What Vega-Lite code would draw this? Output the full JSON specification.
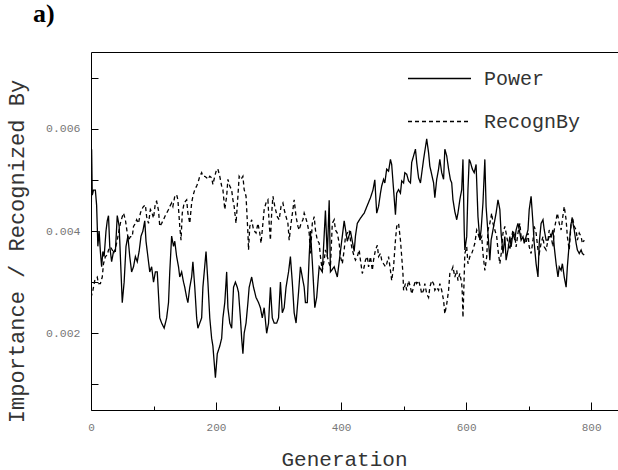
{
  "$schema": "https://vega.github.io/schema/vega-lite/v6.json",
  "width": 527,
  "height": 358,
  "autosize": "none",
  "padding": {"left": 91, "top": 52, "right": 0, "bottom": 60},
  "background": "white",
  "title": {"text": "a)", "anchor": "start", "frame": "group", "font": "Liberation Serif", "fontSize": 26, "fontWeight": "bold", "color": "black", "baseline": "alphabetic", "dx": -58, "offset": -2},
  "config": {"view": {"stroke": null}},
  "datasets": {
    "power": [
      {"g":0,"v":0.0028,"s":"Power"},{"g":1,"v":0.0056,"s":"Power"},{"g":2,"v":0.0047,"s":"Power"},{"g":4,"v":0.0048,"s":"Power"},{"g":7,"v":0.0048,"s":"Power"},{"g":9,"v":0.0045,"s":"Power"},{"g":11,"v":0.0037,"s":"Power"},{"g":13,"v":0.004,"s":"Power"},{"g":15,"v":0.0036,"s":"Power"},{"g":17,"v":0.0033,"s":"Power"},{"g":19,"v":0.0036,"s":"Power"},{"g":21,"v":0.0035,"s":"Power"},{"g":24,"v":0.004,"s":"Power"},{"g":26,"v":0.0042,"s":"Power"},{"g":28,"v":0.0043,"s":"Power"},{"g":30,"v":0.0037,"s":"Power"},{"g":33,"v":0.0034,"s":"Power"},{"g":36,"v":0.0036,"s":"Power"},{"g":39,"v":0.0036,"s":"Power"},{"g":42,"v":0.0043,"s":"Power"},{"g":45,"v":0.0041,"s":"Power"},{"g":48,"v":0.0032,"s":"Power"},{"g":50,"v":0.0026,"s":"Power"},{"g":53,"v":0.003,"s":"Power"},{"g":56,"v":0.0037,"s":"Power"},{"g":59,"v":0.0039,"s":"Power"},{"g":62,"v":0.0035,"s":"Power"},{"g":65,"v":0.0032,"s":"Power"},{"g":68,"v":0.0033,"s":"Power"},{"g":71,"v":0.0035,"s":"Power"},{"g":74,"v":0.0034,"s":"Power"},{"g":77,"v":0.0036,"s":"Power"},{"g":80,"v":0.0039,"s":"Power"},{"g":83,"v":0.004,"s":"Power"},{"g":86,"v":0.0042,"s":"Power"},{"g":88,"v":0.0038,"s":"Power"},{"g":91,"v":0.0035,"s":"Power"},{"g":94,"v":0.0032,"s":"Power"},{"g":97,"v":0.0033,"s":"Power"},{"g":100,"v":0.003,"s":"Power"},{"g":103,"v":0.0032,"s":"Power"},{"g":106,"v":0.0032,"s":"Power"},{"g":110,"v":0.0023,"s":"Power"},{"g":113,"v":0.0022,"s":"Power"},{"g":117,"v":0.0021,"s":"Power"},{"g":121,"v":0.0023,"s":"Power"},{"g":124,"v":0.0026,"s":"Power"},{"g":126,"v":0.0032,"s":"Power"},{"g":129,"v":0.0039,"s":"Power"},{"g":132,"v":0.0037,"s":"Power"},{"g":134,"v":0.0038,"s":"Power"},{"g":137,"v":0.0035,"s":"Power"},{"g":140,"v":0.0033,"s":"Power"},{"g":142,"v":0.0031,"s":"Power"},{"g":145,"v":0.0032,"s":"Power"},{"g":148,"v":0.003,"s":"Power"},{"g":150,"v":0.0029,"s":"Power"},{"g":153,"v":0.0027,"s":"Power"},{"g":155,"v":0.0026,"s":"Power"},{"g":158,"v":0.0029,"s":"Power"},{"g":161,"v":0.0031,"s":"Power"},{"g":163,"v":0.0034,"s":"Power"},{"g":166,"v":0.0029,"s":"Power"},{"g":169,"v":0.0023,"s":"Power"},{"g":171,"v":0.0021,"s":"Power"},{"g":174,"v":0.0022,"s":"Power"},{"g":177,"v":0.0023,"s":"Power"},{"g":179,"v":0.0029,"s":"Power"},{"g":184,"v":0.0036,"s":"Power"},{"g":187,"v":0.003,"s":"Power"},{"g":190,"v":0.0023,"s":"Power"},{"g":193,"v":0.0019,"s":"Power"},{"g":195,"v":0.00175,"s":"Power"},{"g":199,"v":0.00113,"s":"Power"},{"g":202,"v":0.0016,"s":"Power"},{"g":206,"v":0.00175,"s":"Power"},{"g":209,"v":0.0019,"s":"Power"},{"g":211,"v":0.0023,"s":"Power"},{"g":214,"v":0.0026,"s":"Power"},{"g":217,"v":0.0032,"s":"Power"},{"g":219,"v":0.0025,"s":"Power"},{"g":222,"v":0.0022,"s":"Power"},{"g":225,"v":0.0021,"s":"Power"},{"g":228,"v":0.0029,"s":"Power"},{"g":231,"v":0.003,"s":"Power"},{"g":234,"v":0.0029,"s":"Power"},{"g":236,"v":0.0028,"s":"Power"},{"g":239,"v":0.0023,"s":"Power"},{"g":241,"v":0.0019,"s":"Power"},{"g":243,"v":0.0016,"s":"Power"},{"g":245,"v":0.002,"s":"Power"},{"g":248,"v":0.0022,"s":"Power"},{"g":251,"v":0.0026,"s":"Power"},{"g":253,"v":0.0029,"s":"Power"},{"g":257,"v":0.0031,"s":"Power"},{"g":260,"v":0.0029,"s":"Power"},{"g":264,"v":0.0027,"s":"Power"},{"g":268,"v":0.0026,"s":"Power"},{"g":271,"v":0.0025,"s":"Power"},{"g":274,"v":0.0023,"s":"Power"},{"g":277,"v":0.0025,"s":"Power"},{"g":281,"v":0.002,"s":"Power"},{"g":284,"v":0.0022,"s":"Power"},{"g":287,"v":0.0029,"s":"Power"},{"g":290,"v":0.0023,"s":"Power"},{"g":293,"v":0.0022,"s":"Power"},{"g":297,"v":0.0022,"s":"Power"},{"g":300,"v":0.0023,"s":"Power"},{"g":303,"v":0.003,"s":"Power"},{"g":306,"v":0.0024,"s":"Power"},{"g":309,"v":0.0025,"s":"Power"},{"g":312,"v":0.0029,"s":"Power"},{"g":316,"v":0.0032,"s":"Power"},{"g":319,"v":0.0035,"s":"Power"},{"g":322,"v":0.003,"s":"Power"},{"g":325,"v":0.0024,"s":"Power"},{"g":328,"v":0.0022,"s":"Power"},{"g":332,"v":0.0028,"s":"Power"},{"g":335,"v":0.0033,"s":"Power"},{"g":338,"v":0.0031,"s":"Power"},{"g":341,"v":0.0029,"s":"Power"},{"g":343,"v":0.0026,"s":"Power"},{"g":346,"v":0.0026,"s":"Power"},{"g":349,"v":0.0035,"s":"Power"},{"g":351,"v":0.004,"s":"Power"},{"g":354,"v":0.0034,"s":"Power"},{"g":358,"v":0.0025,"s":"Power"},{"g":361,"v":0.0027,"s":"Power"},{"g":365,"v":0.0033,"s":"Power"},{"g":370,"v":0.0032,"s":"Power"},{"g":375,"v":0.0044,"s":"Power"},{"g":378,"v":0.0035,"s":"Power"},{"g":381,"v":0.0046,"s":"Power"},{"g":383,"v":0.0032,"s":"Power"},{"g":389,"v":0.0033,"s":"Power"},{"g":394,"v":0.0031,"s":"Power"},{"g":399,"v":0.0036,"s":"Power"},{"g":405,"v":0.0042,"s":"Power"},{"g":410,"v":0.0038,"s":"Power"},{"g":415,"v":0.004,"s":"Power"},{"g":421,"v":0.0036,"s":"Power"},{"g":423,"v":0.0039,"s":"Power"},{"g":426,"v":0.00415,"s":"Power"},{"g":431,"v":0.00425,"s":"Power"},{"g":437,"v":0.00435,"s":"Power"},{"g":442,"v":0.0045,"s":"Power"},{"g":447,"v":0.00465,"s":"Power"},{"g":451,"v":0.0048,"s":"Power"},{"g":454,"v":0.005,"s":"Power"},{"g":457,"v":0.00435,"s":"Power"},{"g":460,"v":0.00448,"s":"Power"},{"g":463,"v":0.00474,"s":"Power"},{"g":465,"v":0.00488,"s":"Power"},{"g":468,"v":0.00501,"s":"Power"},{"g":470,"v":0.00494,"s":"Power"},{"g":473,"v":0.00521,"s":"Power"},{"g":476,"v":0.00517,"s":"Power"},{"g":479,"v":0.0054,"s":"Power"},{"g":481,"v":0.0053,"s":"Power"},{"g":484,"v":0.00481,"s":"Power"},{"g":487,"v":0.00432,"s":"Power"},{"g":489,"v":0.00474,"s":"Power"},{"g":492,"v":0.00481,"s":"Power"},{"g":495,"v":0.00474,"s":"Power"},{"g":497,"v":0.00498,"s":"Power"},{"g":500,"v":0.00494,"s":"Power"},{"g":502,"v":0.00514,"s":"Power"},{"g":505,"v":0.00511,"s":"Power"},{"g":508,"v":0.00498,"s":"Power"},{"g":511,"v":0.00494,"s":"Power"},{"g":513,"v":0.00534,"s":"Power"},{"g":516,"v":0.00547,"s":"Power"},{"g":519,"v":0.0056,"s":"Power"},{"g":521,"v":0.00534,"s":"Power"},{"g":524,"v":0.00504,"s":"Power"},{"g":527,"v":0.00494,"s":"Power"},{"g":532,"v":0.0054,"s":"Power"},{"g":537,"v":0.0058,"s":"Power"},{"g":540,"v":0.00553,"s":"Power"},{"g":542,"v":0.00527,"s":"Power"},{"g":548,"v":0.00494,"s":"Power"},{"g":550,"v":0.00465,"s":"Power"},{"g":553,"v":0.00501,"s":"Power"},{"g":556,"v":0.00521,"s":"Power"},{"g":558,"v":0.0054,"s":"Power"},{"g":561,"v":0.00514,"s":"Power"},{"g":564,"v":0.00501,"s":"Power"},{"g":566,"v":0.0056,"s":"Power"},{"g":569,"v":0.00547,"s":"Power"},{"g":572,"v":0.00521,"s":"Power"},{"g":575,"v":0.005,"s":"Power"},{"g":577,"v":0.00494,"s":"Power"},{"g":579,"v":0.00461,"s":"Power"},{"g":582,"v":0.00438,"s":"Power"},{"g":585,"v":0.00422,"s":"Power"},{"g":587,"v":0.00435,"s":"Power"},{"g":590,"v":0.00461,"s":"Power"},{"g":593,"v":0.00481,"s":"Power"},{"g":595,"v":0.0054,"s":"Power"},{"g":597,"v":0.00402,"s":"Power"},{"g":598,"v":0.00363,"s":"Power"},{"g":601,"v":0.00389,"s":"Power"},{"g":603,"v":0.00481,"s":"Power"},{"g":605,"v":0.0054,"s":"Power"},{"g":607,"v":0.00534,"s":"Power"},{"g":610,"v":0.00521,"s":"Power"},{"g":613,"v":0.00514,"s":"Power"},{"g":616,"v":0.0053,"s":"Power"},{"g":619,"v":0.00428,"s":"Power"},{"g":622,"v":0.00382,"s":"Power"},{"g":624,"v":0.00402,"s":"Power"},{"g":627,"v":0.00455,"s":"Power"},{"g":630,"v":0.0054,"s":"Power"},{"g":632,"v":0.00448,"s":"Power"},{"g":635,"v":0.00396,"s":"Power"},{"g":638,"v":0.00343,"s":"Power"},{"g":640,"v":0.00382,"s":"Power"},{"g":643,"v":0.00402,"s":"Power"},{"g":646,"v":0.00422,"s":"Power"},{"g":648,"v":0.00435,"s":"Power"},{"g":651,"v":0.00461,"s":"Power"},{"g":654,"v":0.00442,"s":"Power"},{"g":656,"v":0.00396,"s":"Power"},{"g":659,"v":0.00356,"s":"Power"},{"g":662,"v":0.00389,"s":"Power"},{"g":664,"v":0.00343,"s":"Power"},{"g":667,"v":0.00363,"s":"Power"},{"g":670,"v":0.00389,"s":"Power"},{"g":672,"v":0.00369,"s":"Power"},{"g":675,"v":0.00396,"s":"Power"},{"g":678,"v":0.00382,"s":"Power"},{"g":680,"v":0.00402,"s":"Power"},{"g":683,"v":0.00415,"s":"Power"},{"g":686,"v":0.00396,"s":"Power"},{"g":688,"v":0.00382,"s":"Power"},{"g":691,"v":0.00389,"s":"Power"},{"g":693,"v":0.00376,"s":"Power"},{"g":696,"v":0.00389,"s":"Power"},{"g":699,"v":0.00402,"s":"Power"},{"g":701,"v":0.00442,"s":"Power"},{"g":704,"v":0.00468,"s":"Power"},{"g":707,"v":0.00415,"s":"Power"},{"g":709,"v":0.00376,"s":"Power"},{"g":712,"v":0.00336,"s":"Power"},{"g":715,"v":0.0031,"s":"Power"},{"g":717,"v":0.00376,"s":"Power"},{"g":720,"v":0.00415,"s":"Power"},{"g":723,"v":0.00422,"s":"Power"},{"g":725,"v":0.00402,"s":"Power"},{"g":728,"v":0.00382,"s":"Power"},{"g":731,"v":0.00382,"s":"Power"},{"g":733,"v":0.00389,"s":"Power"},{"g":736,"v":0.00389,"s":"Power"},{"g":739,"v":0.00402,"s":"Power"},{"g":741,"v":0.00369,"s":"Power"},{"g":744,"v":0.00336,"s":"Power"},{"g":747,"v":0.0031,"s":"Power"},{"g":749,"v":0.0033,"s":"Power"},{"g":752,"v":0.00323,"s":"Power"},{"g":754,"v":0.00336,"s":"Power"},{"g":757,"v":0.0031,"s":"Power"},{"g":760,"v":0.0029,"s":"Power"},{"g":762,"v":0.0033,"s":"Power"},{"g":765,"v":0.00376,"s":"Power"},{"g":768,"v":0.00415,"s":"Power"},{"g":770,"v":0.00422,"s":"Power"},{"g":773,"v":0.00402,"s":"Power"},{"g":776,"v":0.00376,"s":"Power"},{"g":778,"v":0.00363,"s":"Power"},{"g":781,"v":0.00356,"s":"Power"},{"g":784,"v":0.00363,"s":"Power"},{"g":786,"v":0.00356,"s":"Power"},{"g":789,"v":0.00353,"s":"Power"}
    ],
    "recog": [
      {"g":0,"v":0.0027,"s":"RecognBy"},{"g":3,"v":0.00284,"s":"RecognBy"},{"g":6,"v":0.00303,"s":"RecognBy"},{"g":10,"v":0.0031,"s":"RecognBy"},{"g":12,"v":0.00297,"s":"RecognBy"},{"g":15,"v":0.00297,"s":"RecognBy"},{"g":18,"v":0.0031,"s":"RecognBy"},{"g":20,"v":0.00336,"s":"RecognBy"},{"g":23,"v":0.0035,"s":"RecognBy"},{"g":26,"v":0.00353,"s":"RecognBy"},{"g":28,"v":0.00363,"s":"RecognBy"},{"g":31,"v":0.00369,"s":"RecognBy"},{"g":34,"v":0.00363,"s":"RecognBy"},{"g":36,"v":0.00356,"s":"RecognBy"},{"g":39,"v":0.00366,"s":"RecognBy"},{"g":42,"v":0.00382,"s":"RecognBy"},{"g":44,"v":0.00396,"s":"RecognBy"},{"g":47,"v":0.00415,"s":"RecognBy"},{"g":50,"v":0.00428,"s":"RecognBy"},{"g":52,"v":0.00435,"s":"RecognBy"},{"g":55,"v":0.00422,"s":"RecognBy"},{"g":58,"v":0.00396,"s":"RecognBy"},{"g":60,"v":0.00382,"s":"RecognBy"},{"g":63,"v":0.00389,"s":"RecognBy"},{"g":66,"v":0.00389,"s":"RecognBy"},{"g":68,"v":0.00409,"s":"RecognBy"},{"g":71,"v":0.00415,"s":"RecognBy"},{"g":73,"v":0.00422,"s":"RecognBy"},{"g":76,"v":0.00415,"s":"RecognBy"},{"g":79,"v":0.00435,"s":"RecognBy"},{"g":81,"v":0.00442,"s":"RecognBy"},{"g":84,"v":0.00448,"s":"RecognBy"},{"g":87,"v":0.00451,"s":"RecognBy"},{"g":89,"v":0.00428,"s":"RecognBy"},{"g":92,"v":0.00415,"s":"RecognBy"},{"g":95,"v":0.00442,"s":"RecognBy"},{"g":97,"v":0.00438,"s":"RecognBy"},{"g":100,"v":0.00425,"s":"RecognBy"},{"g":103,"v":0.00455,"s":"RecognBy"},{"g":105,"v":0.00458,"s":"RecognBy"},{"g":108,"v":0.0044,"s":"RecognBy"},{"g":110,"v":0.00409,"s":"RecognBy"},{"g":113,"v":0.00415,"s":"RecognBy"},{"g":116,"v":0.00422,"s":"RecognBy"},{"g":118,"v":0.00428,"s":"RecognBy"},{"g":121,"v":0.00435,"s":"RecognBy"},{"g":124,"v":0.00442,"s":"RecognBy"},{"g":126,"v":0.00448,"s":"RecognBy"},{"g":129,"v":0.00455,"s":"RecognBy"},{"g":131,"v":0.00448,"s":"RecognBy"},{"g":134,"v":0.00468,"s":"RecognBy"},{"g":137,"v":0.00471,"s":"RecognBy"},{"g":139,"v":0.00461,"s":"RecognBy"},{"g":142,"v":0.00409,"s":"RecognBy"},{"g":144,"v":0.00382,"s":"RecognBy"},{"g":146,"v":0.00435,"s":"RecognBy"},{"g":149,"v":0.00455,"s":"RecognBy"},{"g":153,"v":0.00461,"s":"RecognBy"},{"g":155,"v":0.00435,"s":"RecognBy"},{"g":158,"v":0.00415,"s":"RecognBy"},{"g":161,"v":0.00455,"s":"RecognBy"},{"g":163,"v":0.00468,"s":"RecognBy"},{"g":166,"v":0.00481,"s":"RecognBy"},{"g":169,"v":0.00488,"s":"RecognBy"},{"g":171,"v":0.00494,"s":"RecognBy"},{"g":174,"v":0.00507,"s":"RecognBy"},{"g":177,"v":0.00514,"s":"RecognBy"},{"g":179,"v":0.00507,"s":"RecognBy"},{"g":182,"v":0.00507,"s":"RecognBy"},{"g":185,"v":0.00504,"s":"RecognBy"},{"g":187,"v":0.00501,"s":"RecognBy"},{"g":190,"v":0.00507,"s":"RecognBy"},{"g":193,"v":0.00504,"s":"RecognBy"},{"g":195,"v":0.00491,"s":"RecognBy"},{"g":198,"v":0.00507,"s":"RecognBy"},{"g":201,"v":0.00521,"s":"RecognBy"},{"g":203,"v":0.00521,"s":"RecognBy"},{"g":206,"v":0.00507,"s":"RecognBy"},{"g":209,"v":0.00488,"s":"RecognBy"},{"g":211,"v":0.00481,"s":"RecognBy"},{"g":214,"v":0.00442,"s":"RecognBy"},{"g":217,"v":0.00468,"s":"RecognBy"},{"g":219,"v":0.00501,"s":"RecognBy"},{"g":222,"v":0.00488,"s":"RecognBy"},{"g":225,"v":0.0048,"s":"RecognBy"},{"g":227,"v":0.00461,"s":"RecognBy"},{"g":229,"v":0.00448,"s":"RecognBy"},{"g":232,"v":0.00415,"s":"RecognBy"},{"g":235,"v":0.00468,"s":"RecognBy"},{"g":237,"v":0.00507,"s":"RecognBy"},{"g":240,"v":0.00501,"s":"RecognBy"},{"g":243,"v":0.00507,"s":"RecognBy"},{"g":245,"v":0.00481,"s":"RecognBy"},{"g":248,"v":0.00468,"s":"RecognBy"},{"g":251,"v":0.00396,"s":"RecognBy"},{"g":252,"v":0.00363,"s":"RecognBy"},{"g":254,"v":0.00409,"s":"RecognBy"},{"g":257,"v":0.00422,"s":"RecognBy"},{"g":260,"v":0.00402,"s":"RecognBy"},{"g":264,"v":0.00396,"s":"RecognBy"},{"g":267,"v":0.00415,"s":"RecognBy"},{"g":270,"v":0.00396,"s":"RecognBy"},{"g":272,"v":0.00376,"s":"RecognBy"},{"g":275,"v":0.00415,"s":"RecognBy"},{"g":277,"v":0.00442,"s":"RecognBy"},{"g":280,"v":0.00455,"s":"RecognBy"},{"g":283,"v":0.00461,"s":"RecognBy"},{"g":285,"v":0.00415,"s":"RecognBy"},{"g":287,"v":0.00382,"s":"RecognBy"},{"g":289,"v":0.00435,"s":"RecognBy"},{"g":291,"v":0.00468,"s":"RecognBy"},{"g":294,"v":0.00448,"s":"RecognBy"},{"g":298,"v":0.00428,"s":"RecognBy"},{"g":301,"v":0.00422,"s":"RecognBy"},{"g":304,"v":0.00448,"s":"RecognBy"},{"g":307,"v":0.00455,"s":"RecognBy"},{"g":309,"v":0.00442,"s":"RecognBy"},{"g":312,"v":0.00428,"s":"RecognBy"},{"g":315,"v":0.00415,"s":"RecognBy"},{"g":317,"v":0.00382,"s":"RecognBy"},{"g":320,"v":0.00415,"s":"RecognBy"},{"g":323,"v":0.00442,"s":"RecognBy"},{"g":325,"v":0.00461,"s":"RecognBy"},{"g":328,"v":0.00428,"s":"RecognBy"},{"g":331,"v":0.00409,"s":"RecognBy"},{"g":333,"v":0.00402,"s":"RecognBy"},{"g":336,"v":0.00415,"s":"RecognBy"},{"g":339,"v":0.00422,"s":"RecognBy"},{"g":341,"v":0.00435,"s":"RecognBy"},{"g":343,"v":0.00428,"s":"RecognBy"},{"g":346,"v":0.00415,"s":"RecognBy"},{"g":349,"v":0.00396,"s":"RecognBy"},{"g":351,"v":0.00356,"s":"RecognBy"},{"g":354,"v":0.00415,"s":"RecognBy"},{"g":357,"v":0.00428,"s":"RecognBy"},{"g":359,"v":0.00402,"s":"RecognBy"},{"g":362,"v":0.00382,"s":"RecognBy"},{"g":365,"v":0.00376,"s":"RecognBy"},{"g":367,"v":0.0035,"s":"RecognBy"},{"g":370,"v":0.00323,"s":"RecognBy"},{"g":373,"v":0.00343,"s":"RecognBy"},{"g":375,"v":0.00363,"s":"RecognBy"},{"g":378,"v":0.0035,"s":"RecognBy"},{"g":381,"v":0.00336,"s":"RecognBy"},{"g":383,"v":0.0033,"s":"RecognBy"},{"g":386,"v":0.00415,"s":"RecognBy"},{"g":389,"v":0.00422,"s":"RecognBy"},{"g":391,"v":0.00402,"s":"RecognBy"},{"g":394,"v":0.00396,"s":"RecognBy"},{"g":397,"v":0.00376,"s":"RecognBy"},{"g":399,"v":0.0035,"s":"RecognBy"},{"g":402,"v":0.00336,"s":"RecognBy"},{"g":405,"v":0.00363,"s":"RecognBy"},{"g":407,"v":0.00389,"s":"RecognBy"},{"g":410,"v":0.00396,"s":"RecognBy"},{"g":413,"v":0.00402,"s":"RecognBy"},{"g":415,"v":0.00382,"s":"RecognBy"},{"g":418,"v":0.00363,"s":"RecognBy"},{"g":421,"v":0.0035,"s":"RecognBy"},{"g":423,"v":0.00343,"s":"RecognBy"},{"g":426,"v":0.0035,"s":"RecognBy"},{"g":429,"v":0.00363,"s":"RecognBy"},{"g":431,"v":0.00343,"s":"RecognBy"},{"g":434,"v":0.00317,"s":"RecognBy"},{"g":437,"v":0.0033,"s":"RecognBy"},{"g":439,"v":0.00343,"s":"RecognBy"},{"g":442,"v":0.0035,"s":"RecognBy"},{"g":444,"v":0.0033,"s":"RecognBy"},{"g":447,"v":0.0035,"s":"RecognBy"},{"g":450,"v":0.00323,"s":"RecognBy"},{"g":452,"v":0.00343,"s":"RecognBy"},{"g":455,"v":0.00363,"s":"RecognBy"},{"g":458,"v":0.00372,"s":"RecognBy"},{"g":460,"v":0.0035,"s":"RecognBy"},{"g":463,"v":0.00356,"s":"RecognBy"},{"g":465,"v":0.00343,"s":"RecognBy"},{"g":468,"v":0.00336,"s":"RecognBy"},{"g":471,"v":0.0033,"s":"RecognBy"},{"g":473,"v":0.00336,"s":"RecognBy"},{"g":476,"v":0.0035,"s":"RecognBy"},{"g":479,"v":0.00323,"s":"RecognBy"},{"g":481,"v":0.00303,"s":"RecognBy"},{"g":484,"v":0.0033,"s":"RecognBy"},{"g":487,"v":0.00382,"s":"RecognBy"},{"g":489,"v":0.00409,"s":"RecognBy"},{"g":492,"v":0.00415,"s":"RecognBy"},{"g":495,"v":0.00382,"s":"RecognBy"},{"g":497,"v":0.0035,"s":"RecognBy"},{"g":499,"v":0.00317,"s":"RecognBy"},{"g":500,"v":0.00284,"s":"RecognBy"},{"g":503,"v":0.00297,"s":"RecognBy"},{"g":505,"v":0.00284,"s":"RecognBy"},{"g":508,"v":0.00303,"s":"RecognBy"},{"g":511,"v":0.0029,"s":"RecognBy"},{"g":513,"v":0.00277,"s":"RecognBy"},{"g":516,"v":0.0029,"s":"RecognBy"},{"g":519,"v":0.00303,"s":"RecognBy"},{"g":521,"v":0.00297,"s":"RecognBy"},{"g":524,"v":0.00303,"s":"RecognBy"},{"g":527,"v":0.0029,"s":"RecognBy"},{"g":529,"v":0.00277,"s":"RecognBy"},{"g":532,"v":0.00284,"s":"RecognBy"},{"g":534,"v":0.00297,"s":"RecognBy"},{"g":537,"v":0.00277,"s":"RecognBy"},{"g":540,"v":0.0027,"s":"RecognBy"},{"g":542,"v":0.0029,"s":"RecognBy"},{"g":545,"v":0.00303,"s":"RecognBy"},{"g":548,"v":0.00297,"s":"RecognBy"},{"g":550,"v":0.00284,"s":"RecognBy"},{"g":553,"v":0.0029,"s":"RecognBy"},{"g":556,"v":0.00284,"s":"RecognBy"},{"g":558,"v":0.00297,"s":"RecognBy"},{"g":561,"v":0.00284,"s":"RecognBy"},{"g":564,"v":0.00264,"s":"RecognBy"},{"g":566,"v":0.00238,"s":"RecognBy"},{"g":569,"v":0.00257,"s":"RecognBy"},{"g":572,"v":0.00284,"s":"RecognBy"},{"g":574,"v":0.00317,"s":"RecognBy"},{"g":577,"v":0.00323,"s":"RecognBy"},{"g":579,"v":0.0033,"s":"RecognBy"},{"g":582,"v":0.0031,"s":"RecognBy"},{"g":585,"v":0.00323,"s":"RecognBy"},{"g":587,"v":0.00303,"s":"RecognBy"},{"g":590,"v":0.00317,"s":"RecognBy"},{"g":593,"v":0.00297,"s":"RecognBy"},{"g":594,"v":0.00277,"s":"RecognBy"},{"g":595,"v":0.00231,"s":"RecognBy"},{"g":596,"v":0.0027,"s":"RecognBy"},{"g":598,"v":0.00356,"s":"RecognBy"},{"g":601,"v":0.00369,"s":"RecognBy"},{"g":603,"v":0.00336,"s":"RecognBy"},{"g":606,"v":0.0035,"s":"RecognBy"},{"g":609,"v":0.00356,"s":"RecognBy"},{"g":611,"v":0.00363,"s":"RecognBy"},{"g":614,"v":0.00376,"s":"RecognBy"},{"g":617,"v":0.00402,"s":"RecognBy"},{"g":619,"v":0.00396,"s":"RecognBy"},{"g":622,"v":0.00382,"s":"RecognBy"},{"g":625,"v":0.00389,"s":"RecognBy"},{"g":627,"v":0.00356,"s":"RecognBy"},{"g":630,"v":0.00323,"s":"RecognBy"},{"g":633,"v":0.0035,"s":"RecognBy"},{"g":635,"v":0.00402,"s":"RecognBy"},{"g":638,"v":0.00415,"s":"RecognBy"},{"g":641,"v":0.00435,"s":"RecognBy"},{"g":643,"v":0.00415,"s":"RecognBy"},{"g":646,"v":0.00402,"s":"RecognBy"},{"g":649,"v":0.00389,"s":"RecognBy"},{"g":651,"v":0.00363,"s":"RecognBy"},{"g":654,"v":0.00336,"s":"RecognBy"},{"g":657,"v":0.00363,"s":"RecognBy"},{"g":659,"v":0.00396,"s":"RecognBy"},{"g":662,"v":0.00409,"s":"RecognBy"},{"g":664,"v":0.00396,"s":"RecognBy"},{"g":667,"v":0.00376,"s":"RecognBy"},{"g":670,"v":0.00363,"s":"RecognBy"},{"g":672,"v":0.00382,"s":"RecognBy"},{"g":675,"v":0.00402,"s":"RecognBy"},{"g":678,"v":0.00389,"s":"RecognBy"},{"g":680,"v":0.00369,"s":"RecognBy"},{"g":683,"v":0.00396,"s":"RecognBy"},{"g":686,"v":0.00415,"s":"RecognBy"},{"g":688,"v":0.00389,"s":"RecognBy"},{"g":691,"v":0.00389,"s":"RecognBy"},{"g":693,"v":0.00382,"s":"RecognBy"},{"g":696,"v":0.00376,"s":"RecognBy"},{"g":699,"v":0.00396,"s":"RecognBy"},{"g":701,"v":0.00369,"s":"RecognBy"},{"g":704,"v":0.00356,"s":"RecognBy"},{"g":707,"v":0.00382,"s":"RecognBy"},{"g":709,"v":0.00409,"s":"RecognBy"},{"g":712,"v":0.00396,"s":"RecognBy"},{"g":715,"v":0.00363,"s":"RecognBy"},{"g":717,"v":0.00356,"s":"RecognBy"},{"g":720,"v":0.00376,"s":"RecognBy"},{"g":723,"v":0.00389,"s":"RecognBy"},{"g":725,"v":0.00369,"s":"RecognBy"},{"g":728,"v":0.00363,"s":"RecognBy"},{"g":731,"v":0.00382,"s":"RecognBy"},{"g":733,"v":0.00402,"s":"RecognBy"},{"g":736,"v":0.00389,"s":"RecognBy"},{"g":739,"v":0.00369,"s":"RecognBy"},{"g":741,"v":0.00402,"s":"RecognBy"},{"g":744,"v":0.00422,"s":"RecognBy"},{"g":746,"v":0.00435,"s":"RecognBy"},{"g":749,"v":0.00415,"s":"RecognBy"},{"g":752,"v":0.00402,"s":"RecognBy"},{"g":754,"v":0.00422,"s":"RecognBy"},{"g":757,"v":0.00448,"s":"RecognBy"},{"g":760,"v":0.00422,"s":"RecognBy"},{"g":762,"v":0.00389,"s":"RecognBy"},{"g":765,"v":0.00363,"s":"RecognBy"},{"g":768,"v":0.00415,"s":"RecognBy"},{"g":770,"v":0.00428,"s":"RecognBy"},{"g":773,"v":0.00409,"s":"RecognBy"},{"g":776,"v":0.00402,"s":"RecognBy"},{"g":778,"v":0.00382,"s":"RecognBy"},{"g":781,"v":0.00396,"s":"RecognBy"},{"g":784,"v":0.00389,"s":"RecognBy"},{"g":786,"v":0.00376,"s":"RecognBy"},{"g":789,"v":0.00382,"s":"RecognBy"}
    ]
  },
  "layer": [
    {
      "data": {"name": "power"},
      "mark": {"type": "line", "color": "black", "strokeWidth": 1.3, "clip": true},
      "encoding": {
        "x": {"field": "g", "type": "quantitative", "scale": {"domain": [0, 843], "nice": false, "zero": false},
          "axis": {"orient": "bottom", "title": "Generation", "values": [0,100,200,300,400,500,600,700,800],
            "labelExpr": "datum.value % 200 === 0 ? datum.label : ''", "format": "d", "labelFlush": false,
            "domainColor": "black", "domainWidth": 1, "tickColor": "black", "tickWidth": 1,
            "tickSize": {"condition": {"test": "datum.value % 200 === 0", "value": -8}, "value": -4},
            "labelFont": "Liberation Mono", "labelFontSize": 11, "labelColor": "#777", "labelPadding": 19,
            "titleFont": "Liberation Mono", "titleFontSize": 21, "titleFontWeight": "normal", "titleColor": "#333",
            "titleX": 253, "titleY": 49, "titleBaseline": "middle", "titleAnchor": "middle", "grid": false}},
        "y": {"field": "v", "type": "quantitative", "scale": {"domain": [0.0005, 0.0075], "nice": false, "zero": false},
          "axis": {"title": "Importance / Recognized By", "values": [0.001,0.002,0.003,0.004,0.005,0.006,0.007],
            "format": ".3f", "labelExpr": "round(datum.value*1000) % 2 === 0 ? datum.label : ''", "labelFlush": false,
            "domainColor": "black", "domainWidth": 1, "tickColor": "black", "tickWidth": 1, "tickSize": -7,
            "labelFont": "Liberation Mono", "labelFontSize": 11.5, "labelColor": "#777", "labelPadding": 18,
            "titleFont": "Liberation Mono", "titleFontSize": 22, "titleFontWeight": "normal", "titleColor": "#333",
            "titleX": -75, "titleY": 199, "titleBaseline": "middle", "titleAnchor": "middle", "grid": false}},
        "strokeDash": {"field": "s", "type": "nominal",
          "scale": {"domain": ["Power", "RecognBy"], "range": [[1, 0], [4, 3]]},
          "legend": {"title": null, "orient": "none", "legendX": 316, "legendY": -6,
            "symbolType": "stroke", "symbolSize": 3969, "symbolStrokeWidth": 1.3, "symbolStrokeColor": "black",
            "labelFont": "Liberation Mono", "labelFontSize": 20, "labelColor": "#333", "labelOffset": 12,
            "rowPadding": -24}}
      }
    },
    {
      "data": {"name": "recog"},
      "mark": {"type": "line", "color": "black", "strokeWidth": 1.3, "clip": true},
      "encoding": {
        "x": {"field": "g", "type": "quantitative",
          "axis": {"orient": "top", "title": null, "labels": false, "ticks": false, "domainColor": "black", "domainWidth": 1, "grid": false}},
        "y": {"field": "v", "type": "quantitative"},
        "strokeDash": {"field": "s", "type": "nominal"}
      }
    }
  ],
  "resolve": {"axis": {"x": "independent"}}
}
